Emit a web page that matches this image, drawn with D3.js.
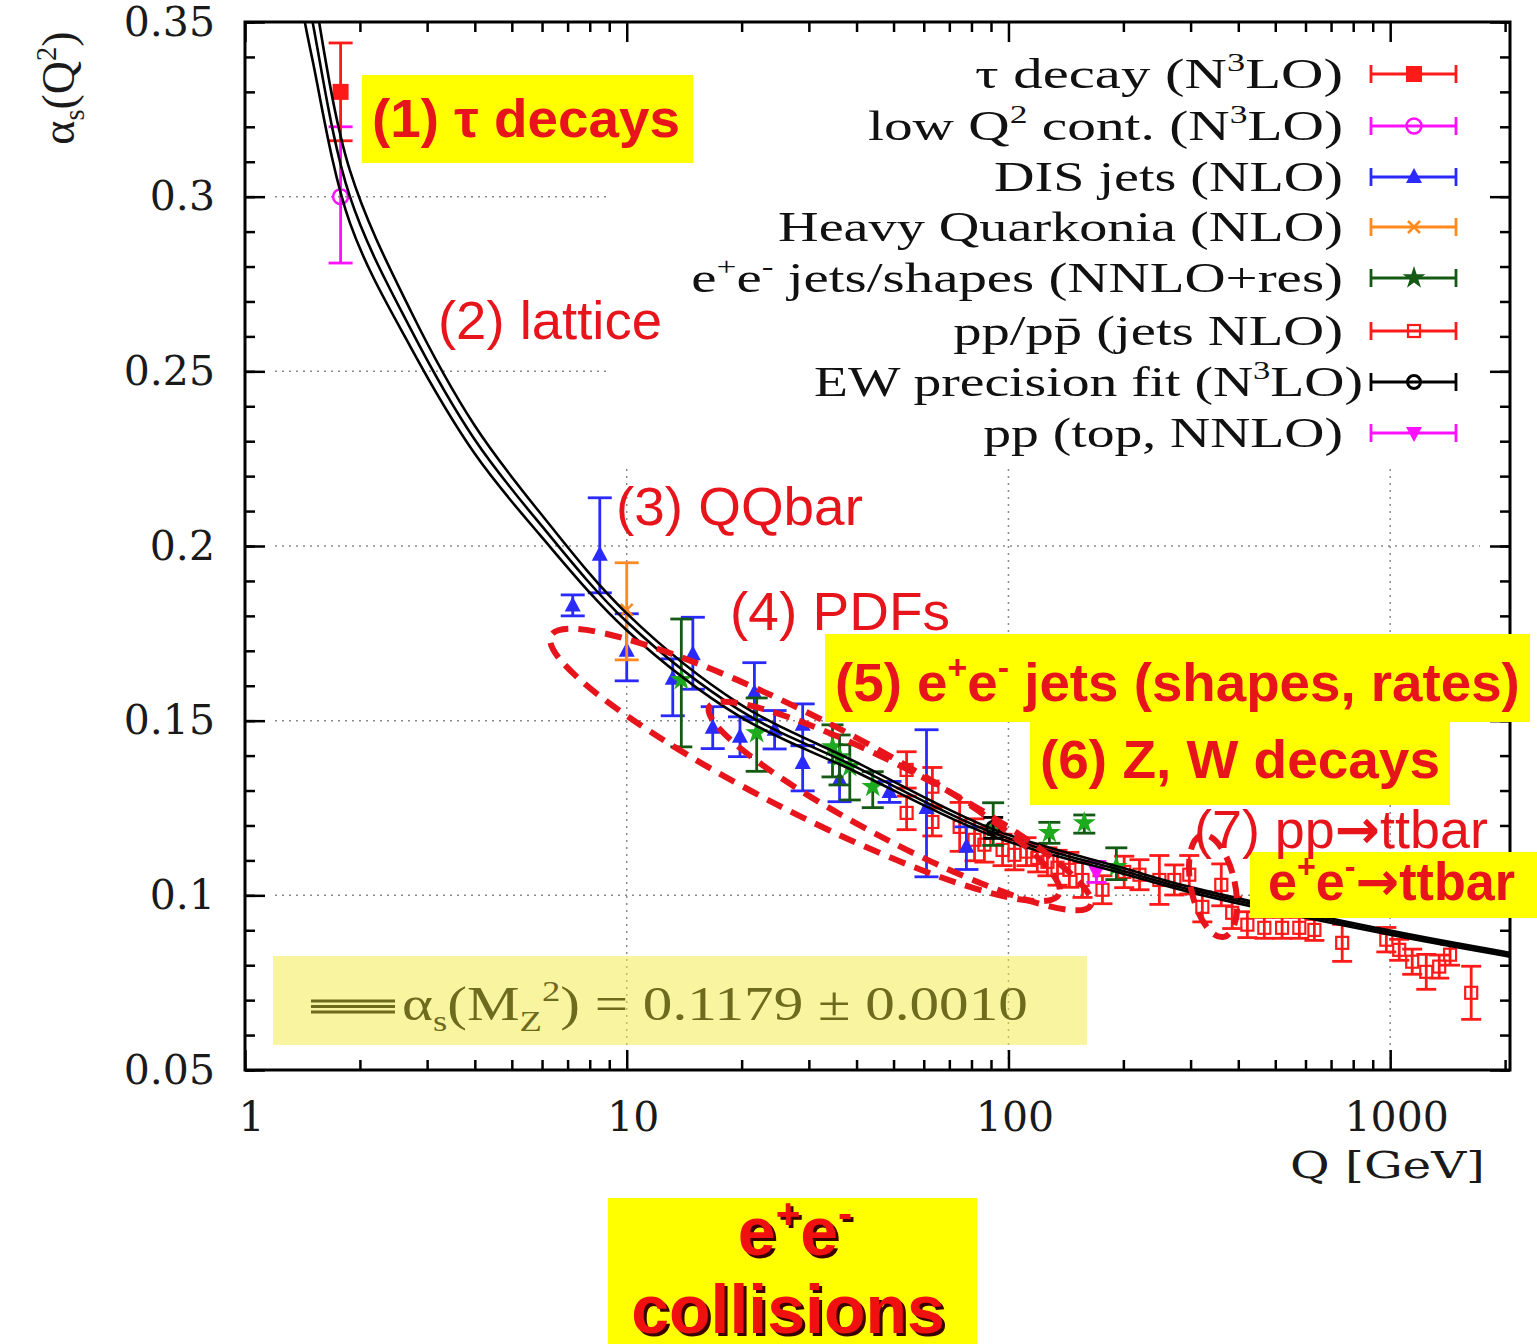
<!DOCTYPE html>
<html><head><meta charset="utf-8">
<script src="https://cdn.jsdelivr.net/npm/d3@7"></script>
<style>body{margin:0;background:#fff}svg{display:block}</style>
</head><body>
<svg id="c" width="1537" height="1344"></svg>
<script>
// ---------------- data ----------------
const curveQ=[1.40,1.497,1.883,2.72,4.0,5.9,10.0,19.7,39.4,91.2,200,300,1000,2060];
const curveA=[0.368,0.351,0.300,0.262,0.2304,0.2066,0.1783,0.1531,0.137,0.1179,0.107,0.1016,0.0893,0.0830];
const curveBand=[0.012,0.011,0.0075,0.0052,0.0040,0.0032,0.0024,0.0018,0.0014,0.0010,0.0008,0.00075,0.0006,0.00055];

const tauQ=[1.78], tauA=[0.330], tauUp=[0.014], tauDn=[0.014];
const lowQ=[1.78], lowA=[0.300], lowUp=[0.020], lowDn=[0.019];
const disQ=[7.22,8.50,10.0,13.2,14.9,16.8,19.8,21.6,24.4,28.9,28.9,36.1,48.8,61.0,77.6];
const disA=[0.183,0.1975,0.170,0.162,0.169,0.148,0.1454,0.158,0.1474,0.1488,0.1379,0.1331,0.1296,0.125,0.1139];
const disUp=[0.003,0.0163,0.0106,0.0057,0.0106,0.006,0.0057,0.0086,0.0055,0.006,0.005,0.005,0.003,0.0224,0.0057];
const disDn=[0.003,0.0109,0.0086,0.0106,0.0100,0.006,0.0057,0.0077,0.0055,0.006,0.008,0.0063,0.003,0.0197,0.0065];
const hqQ=[10.0], hqA=[0.1817], hqUp=[0.0135], hqDn=[0.0143];
const eeQ=[13.9,21.9,34.6,36.1,38.4,44.1,91.2,128,158,191.7];
const eeA=[0.1617,0.1465,0.1425,0.1396,0.1368,0.1311,0.1193,0.1179,0.1207,0.1082];
const eeUp=[0.0174,0.010,0.0063,0.0063,0.0063,0.0043,0.0072,0.003,0.0023,0.0054];
const eeDn=[0.0192,0.011,0.0086,0.0080,0.0095,0.0060,0.005,0.003,0.0029,0.0037];
const ppjQ=[54.1,54.1,63.2,63.2,74.5,81.5,86.5,96.5,103.7,111.5,119,126.5,134.4,144.4,156.3,176.3,201,220.4,248.5,272,297.6,322,361,385.6,422.5,468,521,578,633,748.6,977,1056,1142,1243,1344,1435,1630];
const ppjA=[0.1359,0.1236,0.1311,0.1210,0.1196,0.1159,0.1145,0.1130,0.1116,0.1125,0.1107,0.1096,0.1079,0.1073,0.1044,0.1016,0.1067,0.1059,0.1044,0.1044,0.1059,0.0967,0.1030,0.0950,0.0916,0.0907,0.0907,0.0907,0.0901,0.0864,0.0873,0.0844,0.0810,0.0781,0.0796,0.0830,0.0721];
const ppjErr=[0.0052,0.0048,0.0055,0.004,0.007,0.006,0.005,0.0045,0.0043,0.004,0.004,0.004,0.005,0.005,0.005,0.004,0.0045,0.0043,0.007,0.0043,0.0055,0.0043,0.006,0.0045,0.0037,0.003,0.003,0.003,0.003,0.0053,0.0035,0.003,0.0036,0.005,0.0033,0.003,0.0076];
const ewQ=[91.2], ewA=[0.1193], ewErr=[0.003];
const topQ=[170], topA=[0.1067], topErr=[0.003];

const yMajor=[0.05,0.1,0.15,0.2,0.25,0.3,0.35];
const yTickLabels=["0.05","0.1","0.15","0.2","0.25","0.3","0.35"];
const xMajor=[1,10,100,1000];
const xTickLabels=["1","10","100","1000"];
const gridY=[0.1,0.15,0.2,0.25,0.3];
const gridX=[10,100,1000];

const legendLabels=["τ decay (N^{3}LO)","low Q^{2} cont. (N^{3}LO)","DIS jets (NLO)","Heavy Quarkonia (NLO)",
 "e^{+}e^{-} jets/shapes (NNLO+res)","pp/pp\u0304 (jets NLO)","EW precision fit (N^{3}LO)","pp (top, NNLO)"];

// ---------------- layout ----------------
const W=1537,H=1344;
const M={l:245,r:1510,t:22,b:1070};
const x=d3.scaleLog().domain([1,2060]).range([M.l,M.r]);
const y=d3.scaleLinear().domain([0.05,0.35]).range([M.b,M.t]);
const svg=d3.select("#c");
svg.append("rect").attr("width",W).attr("height",H).attr("fill","#fff");
svg.append("defs").append("clipPath").attr("id","pc").append("rect")
  .attr("x",M.l).attr("y",M.t).attr("width",M.r-M.l).attr("height",M.b-M.t);

const RED="#ff1a1a", ANN="#e8141c";

function rich(t,str,fs){
  const parts=str.split(/(\^\{[^}]*\}|_\{[^}]*\})/).filter(s=>s.length);
  let shift=0;
  parts.forEach(p=>{
    let txt=p,target=0,size=fs;
    if(p.startsWith("^{")){txt=p.slice(2,-1);target=-fs*0.40;size=fs*0.62;}
    else if(p.startsWith("_{")){txt=p.slice(2,-1);target=fs*0.22;size=fs*0.62;}
    const segs=txt.split(/(→)/).filter(s=>s.length);
    segs.forEach((sg,j)=>{
      const ts=t.append("tspan").attr("font-size",size).text(sg);
      if(j===0) ts.attr("dy",target-shift);
      if(sg==="→") ts.attr("font-family","DejaVu Sans").attr("font-weight","bold");
    });
    shift=target;
  });
  return t;
}
function fit(t,x0,w){
  const bw=t.node().getBBox().width; if(!bw) return;
  const s=w/bw;
  t.attr("transform",`translate(${x0},0) scale(${s},1) translate(${-x0},0)`);
}

// grid
const grid=svg.append("g").attr("stroke","#8a8a8a").attr("stroke-width",1.5).attr("stroke-dasharray","2,5");
gridY.forEach(v=>grid.append("line").attr("x1",M.l+30).attr("x2",M.r-30).attr("y1",y(v)).attr("y2",y(v)));
gridX.forEach(v=>grid.append("line").attr("x1",x(v)).attr("x2",x(v)).attr("y1",M.t+20).attr("y2",M.b-6));
// legend opaque background
svg.append("rect").attr("x",610).attr("y",36).attr("width",872).attr("height",428).attr("fill","#fff");

// markers / error bars
function mk(g,type,cx,cy,col){
  switch(type){
    case "sqfill": g.append("rect").attr("x",cx-8).attr("y",cy-8).attr("width",16).attr("height",16).attr("fill",col);break;
    case "circ": g.append("circle").attr("cx",cx).attr("cy",cy).attr("r",7.5).attr("fill","none").attr("stroke",col).attr("stroke-width",2.5);break;
    case "tri": g.append("path").attr("d",`M${cx},${cy-9}L${cx+8},${cy+6}L${cx-8},${cy+6}Z`).attr("fill",col);break;
    case "cross": g.append("path").attr("d",`M${cx-6},${cy-6}L${cx+6},${cy+6}M${cx-6},${cy+6}L${cx+6},${cy-6}`).attr("stroke",col).attr("stroke-width",2.5);break;
    case "star": g.append("path").attr("transform",`translate(${cx},${cy})`).attr("d",d3.symbol(d3.symbolStar,160)()).attr("fill",col);break;
    case "sqopen": g.append("rect").attr("x",cx-6).attr("y",cy-6).attr("width",12).attr("height",12).attr("fill","none").attr("stroke",col).attr("stroke-width",2.2);break;
    case "circk": g.append("circle").attr("cx",cx).attr("cy",cy).attr("r",6.5).attr("fill","none").attr("stroke",col).attr("stroke-width",3);break;
    case "tridown": g.append("path").attr("d",`M${cx-8},${cy-6}L${cx+8},${cy-6}L${cx},${cy+9}Z`).attr("fill",col);break;
  }
}
function vbar(g,cx,y1,y2,col,cw){
  g.append("line").attr("x1",cx).attr("x2",cx).attr("y1",y1).attr("y2",y2).attr("stroke",col).attr("stroke-width",2.8);
  [y1,y2].forEach(yy=>g.append("line").attr("x1",cx-cw).attr("x2",cx+cw).attr("y1",yy).attr("y2",yy).attr("stroke",col).attr("stroke-width",2.8));
}
const series=[
  {Q:ppjQ,A:ppjA,up:ppjErr,dn:ppjErr,bar:RED,col:RED,mk:"sqopen",cw:10},
  {Q:disQ,A:disA,up:disUp,dn:disDn,bar:"#2a2aff",col:"#2a2aff",mk:"tri",cw:12},
  {Q:hqQ,A:hqA,up:hqUp,dn:hqDn,bar:"#ff8a1e",col:"#ff8a1e",mk:"cross",cw:12},
  {Q:eeQ,A:eeA,up:eeUp,dn:eeDn,bar:"#145a14",col:"#1eaa1e",mk:"star",cw:11},
  {Q:ewQ,A:ewA,up:ewErr,dn:ewErr,bar:"#000",col:"#000",mk:"circk",cw:10},
  {Q:topQ,A:topA,up:topErr,dn:topErr,bar:"#ff10ff",col:"#ff10ff",mk:"tridown",cw:10},
  {Q:lowQ,A:lowA,up:lowUp,dn:lowDn,bar:"#ff10ff",col:"#ff10ff",mk:"circ",cw:12},
  {Q:tauQ,A:tauA,up:tauUp,dn:tauDn,bar:RED,col:RED,mk:"sqfill",cw:12}
];
const gd=svg.append("g").attr("clip-path","url(#pc)");
series.forEach(s=>{
  s.Q.forEach((q,i)=>{
    const g=gd.append("g");
    vbar(g,x(q),y(s.A[i]+s.up[i]),y(s.A[i]-s.dn[i]),s.bar,s.cw);
    mk(g,s.mk,x(q),y(s.A[i]),s.col);
  });
});

// running coupling band
const gc=svg.append("g").attr("clip-path","url(#pc)").attr("fill","none").attr("stroke","#000");
const ln=d3.line().x(d=>x(d[0])).y(d=>y(d[1])).curve(d3.curveCatmullRom.alpha(0.5));
const cC=curveQ.map((q,i)=>[q,curveA[i]]);
const cU=curveQ.map((q,i)=>[q,curveA[i]+curveBand[i]]);
const cL=curveQ.map((q,i)=>[q,curveA[i]-curveBand[i]]);
[cU,cL,cC].forEach(c=>gc.append("path").attr("d",ln(c)).attr("stroke-width",2.6));

// dashed ellipses
const ell=[{cx:805,cy:765,rx:285,ry:48,r:27},{cx:900,cy:806,rx:215,ry:36,r:27.5},{cx:1213,cy:886,rx:22,ry:52,r:-12}];
ell.forEach(e=>svg.append("ellipse").attr("cx",e.cx).attr("cy",e.cy).attr("rx",e.rx).attr("ry",e.ry)
  .attr("transform",`rotate(${e.r},${e.cx},${e.cy})`).attr("fill","none").attr("stroke",ANN)
  .attr("stroke-width",6).attr("stroke-dasharray","17,10"));

// axes
function sty(g,lab){
  g.select(".domain").remove();
  g.selectAll(".tick line").attr("stroke","#000").attr("stroke-width",2.5);
  g.selectAll("text").attr("font-family","DejaVu Serif").attr("font-size",lab?41:0).attr("fill","#1a1a1a");
}
const yMinor=d3.range(0.05,0.3501,0.01);
const xMinor=[];[1,10,100,1000].forEach(d=>[2,3,4,5,6,7,8,9].forEach(k=>{if(d*k<=2060)xMinor.push(d*k);}));
svg.append("g").attr("transform",`translate(${M.l},0)`).call(d3.axisLeft(y).tickValues(yMajor).tickFormat((d,i)=>yTickLabels[i]).tickSize(-20).tickPadding(30)).call(g=>sty(g,true));
svg.append("g").attr("transform",`translate(${M.l},0)`).call(d3.axisLeft(y).tickValues(yMinor).tickFormat("").tickSize(-10)).call(g=>sty(g,false));
svg.append("g").attr("transform",`translate(${M.r},0)`).call(d3.axisRight(y).tickValues(yMajor).tickFormat("").tickSize(-20)).call(g=>sty(g,false));
svg.append("g").attr("transform",`translate(${M.r},0)`).call(d3.axisRight(y).tickValues(yMinor).tickFormat("").tickSize(-10)).call(g=>sty(g,false));
svg.append("g").attr("transform",`translate(6,${M.b})`).call(d3.axisBottom(x).tickValues(xMajor).tickFormat((d,i)=>xTickLabels[i]).tickSize(0).tickPadding(32)).call(g=>sty(g,true));
svg.append("g").attr("transform",`translate(0,${M.b})`).call(d3.axisBottom(x).tickValues(xMajor).tickFormat("").tickSize(-20)).call(g=>sty(g,false));
svg.append("g").attr("transform",`translate(0,${M.b})`).call(d3.axisBottom(x).tickValues(xMinor).tickFormat("").tickSize(-10)).call(g=>sty(g,false));
svg.append("g").attr("transform",`translate(0,${M.t})`).call(d3.axisTop(x).tickValues(xMajor).tickFormat("").tickSize(-20)).call(g=>sty(g,false));
svg.append("g").attr("transform",`translate(0,${M.t})`).call(d3.axisTop(x).tickValues(xMinor).tickFormat("").tickSize(-10)).call(g=>sty(g,false));
svg.append("rect").attr("x",M.l).attr("y",M.t).attr("width",M.r-M.l).attr("height",M.b-M.t).attr("fill","none").attr("stroke","#000").attr("stroke-width",3);

// axis titles
const xt=svg.append("text").attr("x",1485).attr("y",1178).attr("text-anchor","end").attr("font-family","DejaVu Serif").attr("font-size",38).attr("fill","#1a1a1a").text("Q [GeV]");
fit(xt,1485,195);
const yt=svg.append("text").attr("transform","translate(74,88) rotate(-90)").attr("text-anchor","middle").attr("font-family","Liberation Serif").attr("font-size",46).attr("fill","#1a1a1a");
rich(yt,"α_{s}(Q^{2})",46);

// legend
const legRowY=[74,126,177,227,278,331,382,433];
const legLeft=[975,868,994,778,691,953,814,983];
const legMk=["sqfill","circ","tri","cross","star","sqopen","circk","tridown"];
const legCol=[RED,"#ff10ff","#2a2aff","#ff8a1e","#145a14",RED,"#000","#ff10ff"];
legendLabels.forEach((lab,i)=>{
  const yy=legRowY[i];
  const right=i===6?1363:1343;
  const t=svg.append("text").attr("x",right).attr("y",yy+14).attr("text-anchor","end")
    .attr("font-family","Liberation Serif").attr("font-size",42).attr("fill","#111");
  rich(t,lab,42);
  fit(t,right,right-legLeft[i]);
  const g=svg.append("g");
  g.append("line").attr("x1",1371).attr("x2",1456).attr("y1",yy).attr("y2",yy).attr("stroke",legCol[i]).attr("stroke-width",2.8);
  [1371,1456].forEach(xx=>g.append("line").attr("x1",xx).attr("x2",xx).attr("y1",yy-9).attr("y2",yy+9).attr("stroke",legCol[i]).attr("stroke-width",2.8));
  mk(g,legMk[i],1414,yy,legCol[i]);
});

// annotation boxes
const boxes=[{x:362,y:75,w:331,h:88},{x:825,y:634,w:705,h:88},{x:1030,y:720,w:420,h:85},{x:1250,y:852,w:287,h:66},{x:608,y:1198,w:369,h:146}];
boxes.forEach(b=>svg.append("rect").attr("x",b.x).attr("y",b.y).attr("width",b.w).attr("height",b.h).attr("fill","#ffff00"));

const notes=[
 {t:"(1) τ decays",x:372,y:137,w:308,b:true},
 {t:"(2) lattice",x:438,y:339,w:224,b:false},
 {t:"(3) QQbar",x:616,y:525,w:247,b:false},
 {t:"(4) PDFs",x:730,y:630,w:220,b:false},
 {t:"(5) e^{+}e^{-} jets (shapes, rates)",x:835,y:701,w:685,b:true},
 {t:"(6) Z, W decays",x:1040,y:778,w:400,b:true},
 {t:"(7) pp→ttbar",x:1194,y:848,w:294,b:false},
 {t:"e^{+}e^{-}→ttbar",x:1268,y:900,w:247,b:true}
];
notes.forEach(n=>{
  const t=svg.append("text").attr("x",n.x).attr("y",n.y).attr("font-family","Liberation Sans")
    .attr("font-weight",n.b?"bold":"normal").attr("font-size",54).attr("fill",ANN);
  rich(t,n.t,54);
  fit(t,n.x,n.w);
});

// bottom "e+e- collisions" with shadow
[["#3a0000",3],["#f01010",0]].forEach(([c,o])=>{
  const t1=svg.append("text").attr("x",795+o).attr("y",1255+o).attr("text-anchor","middle").attr("font-family","Liberation Sans")
    .attr("font-weight","bold").attr("font-size",68).attr("fill",c);
  rich(t1,"e^{+}e^{-}",68);
  svg.append("text").attr("x",788+o).attr("y",1333+o).attr("text-anchor","middle").attr("font-family","Liberation Sans")
    .attr("font-weight","bold").attr("font-size",68).attr("fill",c).text("collisions");
});

// alpha_s(MZ) box
svg.append("rect").attr("x",273).attr("y",956).attr("width",814).attr("height",89).attr("fill","#f3ea40").attr("opacity",0.5);
[1001,1006.5,1012].forEach(yy=>svg.append("line").attr("x1",311).attr("x2",395).attr("y1",yy).attr("y2",yy).attr("stroke","#6e6a1e").attr("stroke-width",3.2));
const at=svg.append("text").attr("x",402).attr("y",1020).attr("font-family","Liberation Serif").attr("font-size",48).attr("fill","#6e6a1e");
rich(at,"α_{s}(M_{Z}^{2}) = 0.1179 ± 0.0010",48);
fit(at,402,626);
</script>
</body></html>
